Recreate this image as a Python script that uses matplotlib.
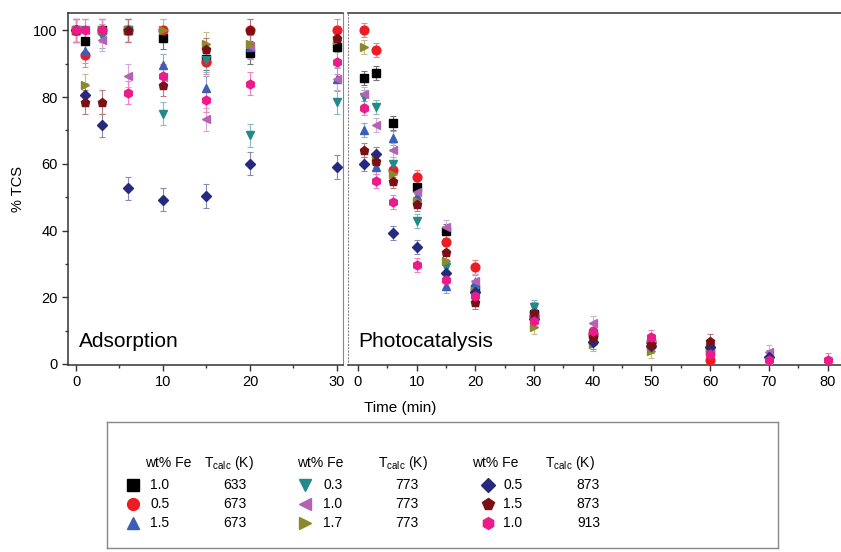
import matplotlib
matplotlib.use("Agg")
import matplotlib.pyplot as plt
from matplotlib.ticker import MultipleLocator
from matplotlib.colors import to_rgb

plt.rcParams['font.family'] = ['Liberation Sans', 'DejaVu Sans']
plt.rcParams['mathtext.fontset'] = 'custom'
plt.rcParams['mathtext.rm'] = 'Liberation Sans'
plt.rcParams['mathtext.it'] = 'Liberation Sans'

# ---------------- data ----------------
wt_fe = ["1.0", "0.5", "1.5", "0.3", "1.0", "1.7", "0.5", "1.5", "1.0"]
t_calc = ["633", "673", "673", "773", "773", "773", "873", "873", "913"]
markers = ["s", "o", "^", "v", "<", ">", "D", "p", "h"]
colors = ["#000000", "#ec1c24", "#3b5fb4", "#23898a", "#b463b4",
          "#8a8a2c", "#262a7e", "#7a1016", "#ec1b8c"]

t_ads = [0, 1, 3, 6, 10, 15, 20, 30]
ads = [
    [100, 96.8, 100, 100, 97.8, 91.5, 93.3, 95.0],   # 1.0 / 633
    [100, 92.5, 100, 100, 100, 90.5, 100, 100],      # 0.5 / 673
    [100, 93.8, 100, 100, 89.5, 82.7, 95.0, 85.3],   # 1.5 / 673
    [100, 100, 98.3, 100, 75.0, 91.0, 68.5, 78.5],   # 0.3 / 773
    [100, 100, 97.2, 86.4, 86.0, 73.3, 95.3, 85.5],  # 1.0 / 773
    [100, 83.5, 100, 100, 100, 96.0, 96.0, 97.0],    # 1.7 / 773
    [100, 80.7, 71.5, 52.6, 49.3, 50.3, 60.0, 59.0], # 0.5 / 873
    [100, 78.5, 78.5, 100, 83.7, 94.3, 100, 97.7],   # 1.5 / 873
    [100, 100, 100, 81.3, 86.4, 79.0, 84.0, 90.5],   # 1.0 / 913
]

t_pc = [1, 3, 6, 10, 15, 20, 30, 40, 50, 60, 70, 80]
pc = [
    [85.7, 87.2, 72.1, 53.1, 40.0, 22.5, 15.0, 9.0, 6.0, 4.0],
    [100, 94.0, 58.0, 56.0, 36.5, 29.2, 14.5, 9.0, 6.5, 1.2],
    [70.0, 59.0, 67.7, 50.3, 23.5, 24.5, 16.5, 8.0, 6.0, 3.7],
    [80.0, 77.0, 60.0, 43.0, 29.0, 22.0, 17.2, 8.5, 5.5, 4.0],
    [81.0, 71.5, 64.0, 51.5, 41.0, 25.0, 14.5, 12.3, 7.0, 5.0, 3.5],
    [95.0, 61.0, 57.0, 49.0, 30.8, 22.0, 11.0, 6.0, 4.0, 5.0],
    [60.0, 63.0, 39.2, 35.0, 27.3, 21.5, 13.5, 6.5, 5.5, 5.0, 2.2],
    [64.0, 60.8, 54.7, 48.0, 33.7, 18.5, 15.2, 8.0, 6.0, 7.0],
    [76.6, 54.8, 48.5, 29.7, 25.1, 20.5, 13.0, 10.0, 8.2, 3.0, 1.2, 1.2],
]
err = 3.5


def lighten(c, f=0.45):
    r, g, b = to_rgb(c)
    return (r + (1 - r) * f, g + (1 - g) * f, b + (1 - b) * f)


# ---------------- figure ----------------
fig = plt.figure(figsize=(8.41, 5.52), dpi=100)
W, H = 841, 552


def rect(x0, y0, x1, y1):
    return [x0 / W, 1 - y1 / H, (x1 - x0) / W, (y1 - y0) / H]


axL = fig.add_axes(rect(68, 13, 343, 365))
axR = fig.add_axes(rect(348, 13, 841, 365))

ylim = (-0.3, 105.2)
for i in range(len(markers)):
    ms = 5.5 if markers[i] == 'D' else 6.3
    ec = lighten(colors[i])
    axL.errorbar(t_ads, ads[i], yerr=err, fmt=markers[i], color=colors[i],
                 ms=ms, mec=colors[i], ecolor=ec, elinewidth=0.8, capsize=2.5,
                 capthick=0.8, zorder=3 + i * 0.01)
    n = len(pc[i])
    axR.errorbar(t_pc[:n], pc[i], yerr=err * 0.6, fmt=markers[i], color=colors[i],
                 ms=ms, mec=colors[i], ecolor=ec, elinewidth=0.8, capsize=2.5,
                 capthick=0.8, zorder=3 + i * 0.01)

for ax in (axL, axR):
    ax.set_ylim(*ylim)
    ax.tick_params(direction='out', labelsize=10.5, length=4, width=1, color='#333333')
    ax.tick_params(which='minor', direction='out', length=2.5, width=1, color='#333333')
    for s in ax.spines.values():
        s.set_color('#333333')
        s.set_linewidth(1.1)

axL.set_xlim(-0.92, 30.7)
axL.xaxis.set_major_locator(MultipleLocator(10))
axL.xaxis.set_minor_locator(MultipleLocator(5))
axL.yaxis.set_major_locator(MultipleLocator(20))
axL.yaxis.set_minor_locator(MultipleLocator(10))
axL.spines['right'].set_color('#888888')
axL.spines['right'].set_linewidth(0.8)
axL.set_ylabel('% TCS', fontsize=10.5, labelpad=6)
axL.text(0.04, 0.04, 'Adsorption', transform=axL.transAxes, fontsize=15,
         ha='left', va='bottom')

axR.set_xlim(-1.7, 82.3)
axR.xaxis.set_major_locator(MultipleLocator(10))
axR.xaxis.set_minor_locator(MultipleLocator(5))
axR.set_yticks([])
axR.spines['right'].set_visible(False)
axR.spines['left'].set_linestyle((0, (1, 2)))
axR.spines['left'].set_color('#888888')
axR.spines['left'].set_linewidth(0.8)
axR.text(0.02, 0.04, 'Photocatalysis', transform=axR.transAxes, fontsize=15,
         ha='left', va='bottom')

fig.text(400 / W, 1 - 408 / H, 'Time (min)', ha='center', va='center', fontsize=11)

# ---------------- legend box ----------------
axLeg = fig.add_axes(rect(107, 422, 778, 548))
axLeg.set_xlim(107, 778)
axLeg.set_ylim(548, 422)
axLeg.set_xticks([])
axLeg.set_yticks([])
for s in axLeg.spines.values():
    s.set_color('#888888')
    s.set_linewidth(1.0)

groups_x = [(133, 160, 247, 145, 204), (305, 333, 418, 297, 378), (488, 513, 600, 472, 545)]
rows_y = [485, 504, 523]
for g, (mx, vx, tx, hx1, hx2) in enumerate(groups_x):
    axLeg.text(hx1, 463, 'wt% Fe', fontsize=10, ha='left', va='center')
    axLeg.text(hx2, 463, r'T$_{\rm calc}$ (K)', fontsize=10, ha='left', va='center')
    for r in range(3):
        i = g * 3 + r
        axLeg.plot([mx], [rows_y[r]], marker=markers[i], color=colors[i],
                   ms=8.5 if markers[i] != 'D' else 7.5, ls='none')
        axLeg.text(vx, rows_y[r], wt_fe[i], fontsize=10, ha='center', va='center')
        axLeg.text(tx, rows_y[r], t_calc[i], fontsize=10, ha='right', va='center')

fig.savefig('out.png', dpi=100)
